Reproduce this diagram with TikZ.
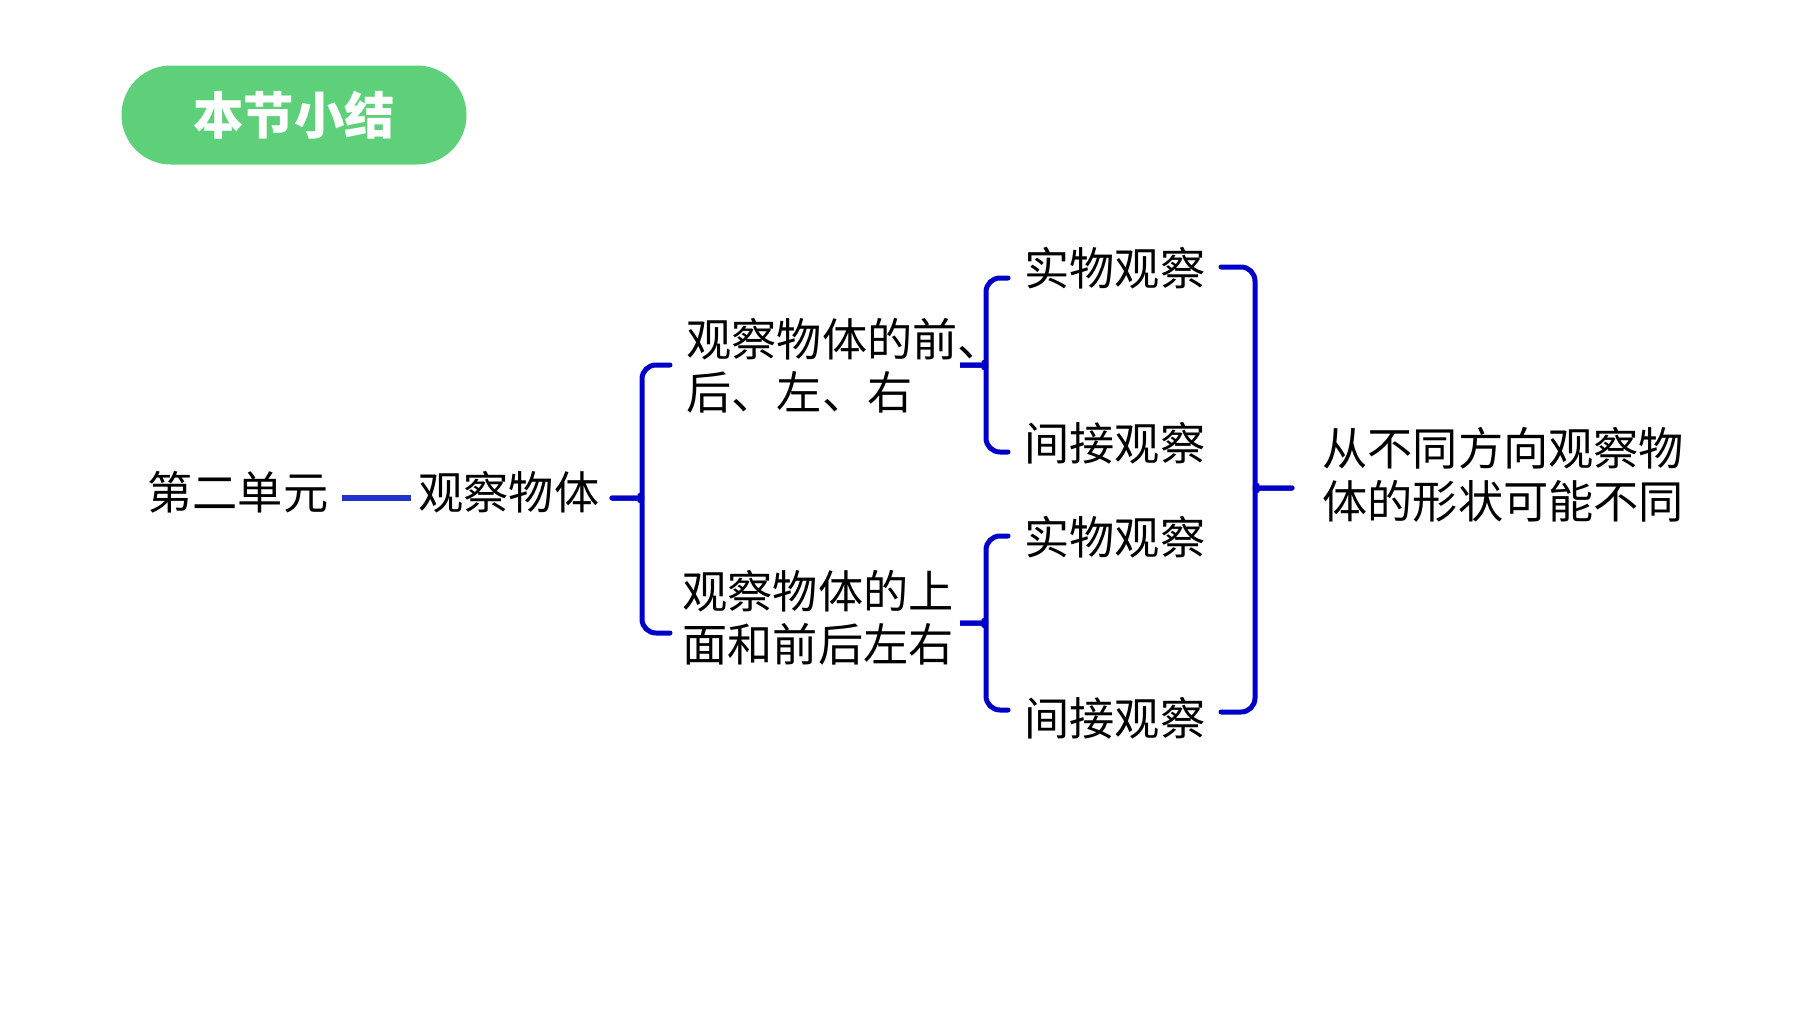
\documentclass[tikz,border=0pt]{standalone}
\usepackage{fontspec}
\setmainfont{Noto Sans CJK SC}
\usepackage{xcolor}

\definecolor{pillgreen}{RGB}{94,208,122}
\definecolor{braceblue}{RGB}{0,0,200}
\definecolor{lineblue}{RGB}{34,51,204}

% curly bracket: end x, stem x, tip x, top y, mid y, bottom y
\newcommand{\obsbraceL}[6]{%
\draw[brace] (#1,#4) -- (#2,#4) -- (#2,#5-14) to[out=-90,in=0] (#2-12,#5) -- (#3,#5);
\draw[brace] (#3,#5) -- (#2-12,#5) to[out=0,in=90] (#2,#5+14) -- (#2,#6) -- (#1,#6);}
\newcommand{\obsbraceR}[6]{%
\draw[brace] (#1,#4) -- (#2,#4) -- (#2,#5-14) to[out=-90,in=180] (#2+12,#5) -- (#3,#5);
\draw[brace] (#3,#5) -- (#2+12,#5) to[out=180,in=90] (#2,#5+14) -- (#2,#6) -- (#1,#6);}

\begin{document}
\begin{tikzpicture}[x=0.5pt,y=-0.5pt]
\tikzstyle{txt}=[inner sep=0pt,anchor=west,align=left,font=\fontsize{22.6}{26.5}\selectfont]
\tikzstyle{pill}=[fill=pillgreen,text=white,minimum width=172.5pt,minimum height=49.5pt,rounded corners=24.7pt,font=\fontsize{25.2}{28}\selectfont\bfseries]
\tikzstyle{brace}=[draw=braceblue,line width=2.5pt,rounded corners=7pt,line cap=round]
\tikzstyle{link}=[draw=lineblue,line width=3pt]

\useasboundingbox (0,0) rectangle (1800,1012);

\node[pill](title) at (294,115){本节小结};

\node[txt](unit) at (147,492){第二单元};
\node[txt](body) at (418,492){观察物体};
\draw[link,shorten <=6.8pt,shorten >=3.5pt] ([yshift=-3pt]unit.east) -- ([yshift=-3pt]body.west);

\node[txt](front) at (686,366){观察物体的前、\\后、左、右};
\node[txt](above) at (682,618){观察物体的上\\面和前后左右};

\node[txt](real1) at (1024,268){实物观察};
\node[txt](ind1) at (1024,443){间接观察};
\node[txt](real2) at (1024,537){实物观察};
\node[txt](ind2) at (1024,718){间接观察};

\node[txt](shape) at (1322,475){从不同方向观察物\\体的形状可能不同};

\obsbraceL{670}{642}{612}{365}{498}{633}
\obsbraceL{1008}{986}{963}{278}{365}{452}
\obsbraceL{1008}{986}{963}{536}{623}{710}
\obsbraceR{1221}{1255}{1292}{267}{488}{712}
\end{tikzpicture}
\end{document}
